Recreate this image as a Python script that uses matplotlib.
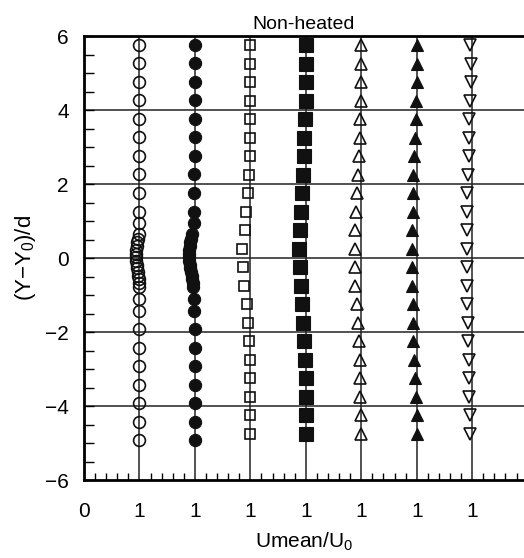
import matplotlib
matplotlib.use("Agg")
import matplotlib.pyplot as plt
from matplotlib.ticker import MultipleLocator

plt.rcParams['font.family'] = ['Liberation Sans', 'DejaVu Sans']
plt.rcParams['mathtext.fontset'] = 'custom'
plt.rcParams['mathtext.rm'] = 'Liberation Sans'
plt.rcParams['mathtext.it'] = 'Liberation Sans'

# y positions of the two near-field profiles (dense near the centre line)
y_circ = [-4.92, -4.42, -3.92, -3.42, -2.92, -2.42, -1.92, -1.42, -1.10, -0.78,
          -0.68, -0.58, -0.48, -0.38, -0.28, -0.18, -0.08, 0.02, 0.12, 0.22,
          0.32, 0.42, 0.52, 0.64, 0.94, 1.25, 1.76, 2.26, 2.76, 3.26, 3.76,
          4.26, 4.76, 5.26, 5.76]
u_open_circ = [1.0, 1.0, 1.0, 1.0, 1.0, 1.0, 1.0, 1.0, 1.0, 0.995,
               0.99, 0.985, 0.98, 0.97, 0.96, 0.955, 0.945, 0.94, 0.935, 0.94,
               0.95, 0.96, 0.975, 0.985, 0.995, 1.0, 1.0, 1.0, 1.0, 1.0, 1.0,
               1.0, 1.0, 1.0, 1.0]
u_fill_circ = [1.0, 1.0, 1.0, 1.0, 1.0, 1.0, 0.995, 0.99, 0.985, 0.97,
               0.96, 0.95, 0.94, 0.93, 0.92, 0.91, 0.90, 0.895, 0.895, 0.90,
               0.91, 0.92, 0.935, 0.95, 0.975, 0.975, 0.985, 0.99, 0.995, 1.0, 1.0,
               1.0, 1.0, 1.0, 1.0]

# y positions of the downstream profiles
y_std = [-4.75, -4.25, -3.75, -3.25, -2.75, -2.25, -1.75, -1.25, -0.75, -0.25,
         0.25, 0.75, 1.25, 1.75, 2.25, 2.75, 3.25, 3.75, 4.25, 4.75, 5.25, 5.75]
u_open_sq = [1.0, 1.0, 1.0, 0.995, 0.99, 0.975, 0.965, 0.945, 0.885, 0.86,
             0.85, 0.90, 0.93, 0.96, 0.975, 0.985, 0.99, 0.99, 0.99, 0.99, 0.99, 0.99]
u_fill_sq = [1.01, 1.01, 1.0, 0.995, 0.99, 0.965, 0.95, 0.93, 0.905, 0.89,
             0.88, 0.895, 0.915, 0.94, 0.955, 0.97, 0.975, 0.99, 0.995, 1.0, 1.0, 1.0]
u_open_tri = [1.0, 0.988, 0.982, 0.97, 0.97, 0.958, 0.94, 0.915, 0.89, 0.88,
              0.88, 0.89, 0.905, 0.922, 0.946, 0.958, 0.97, 0.982, 0.988, 0.988, 1.0, 1.0]
u_fill_tri = [1.0, 1.0, 0.982, 0.97, 0.952, 0.94, 0.94, 0.94, 0.922, 0.91,
              0.907, 0.913, 0.925, 0.93, 0.94, 0.958, 0.97, 0.988, 0.988, 1.0, 1.0, 1.0]
u_open_dtri = [0.964, 0.964, 0.952, 0.952, 0.94, 0.928, 0.925, 0.915, 0.91, 0.90,
               0.90, 0.91, 0.91, 0.908, 0.92, 0.94, 0.95, 0.95, 0.97, 0.98, 0.98, 0.965]

profiles = [
    (y_circ, u_open_circ, 'o', False, 8.5),
    (y_circ, u_fill_circ, 'o', True, 8.8),
    (y_std, u_open_sq, 's', False, 7.8),
    (y_std, u_fill_sq, 's', True, 10),
    (y_std, u_open_tri, '^', False, 9),
    (y_std, u_fill_tri, '^', True, 9),
    (y_std, u_open_dtri, 'v', False, 9),
]
tick_labels = ['0', '1', '1', '1', '1', '1', '1', '1']

fig = plt.figure(figsize=(5.24, 5.58), dpi=100)
ax = fig.add_axes([84 / 524, 78 / 558, 440 / 524, 444 / 558])

for k in range(1, 8):
    ax.axvline(k, color='#222222', lw=1.1, zorder=1)
for yy in [-4, -2, 0, 2, 4]:
    ax.axhline(yy, color='#222222', lw=1.1, zorder=1)

for k, (ys, us, m, filled, ms) in enumerate(profiles):
    xs = [k + u for u in us]
    if filled:
        ax.plot(xs, ys, ls='none', marker=m, ms=ms, mfc='#111111', mec='#111111',
                mew=0.8, zorder=3)
    else:
        ax.plot(xs, ys, ls='none', marker=m, ms=ms, mfc='none', mec='#111111',
                mew=1.2, zorder=3)

ax.set_xlim(0, 440 / 55.45)
ax.set_ylim(-6, 6)
ax.set_xticks(range(8))
ax.set_xticklabels(tick_labels)
ax.set_yticks([-6, -4, -2, 0, 2, 4, 6])
ax.xaxis.set_minor_locator(MultipleLocator(0.2))
ax.yaxis.set_minor_locator(MultipleLocator(0.5))
ax.tick_params(axis='x', which='major', length=0, pad=16, labelsize=15)
ax.tick_params(axis='x', which='minor', direction='in', length=5, width=1)
ax.tick_params(axis='y', which='major', direction='in', length=7, width=1,
               pad=11, labelsize=15)
ax.tick_params(axis='y', which='minor', direction='in', length=7, width=1)

ax.spines['right'].set_visible(False)
for side in ['left', 'top', 'bottom']:
    ax.spines[side].set_linewidth(2)

ax.set_title('Non-heated', fontsize=14, pad=5)
ax.set_xlabel('Umean/U$_0$', fontsize=15, labelpad=7)
ax.set_ylabel('(Y$-$Y$_0$)/d', fontsize=16, labelpad=5)

fig.savefig('out.png', dpi=100)
